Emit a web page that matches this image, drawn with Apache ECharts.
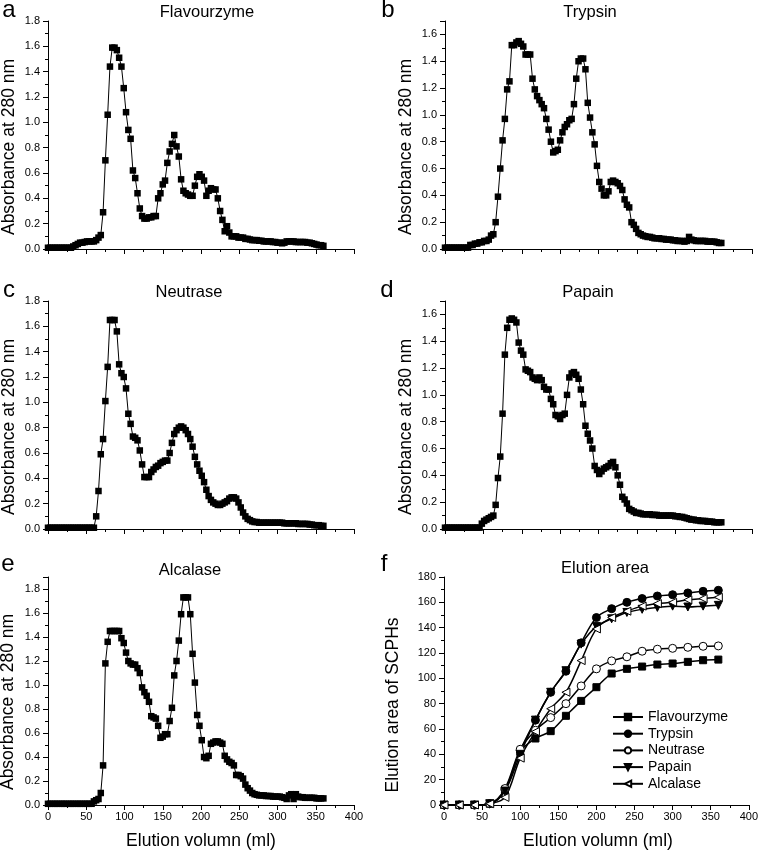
<!DOCTYPE html>
<html>
<head>
<meta charset="utf-8">
<script src="https://cdn.jsdelivr.net/npm/echarts@6.0.0/dist/echarts.min.js"></script>
<style>
html,body{margin:0;padding:0;background:#fff;}
#chart{width:761px;height:851px;}
</style>
</head>
<body>
<div id="chart"></div>
<script>
// ---- Data ----
const volumes = [0,3,6,9,12,15,18,21,24,27,30,33,36,39,42,45,48,51,54,57,60,63,66,69,72,75,78,81,84,87,90,93,96,99,102,105,108,111,114,117,120,123,126,129,132,135,138,141,144,147,150,153,156,159,162,165,168,171,174,177,180,183,186,189,192,195,198,201,204,207,210,213,216,219,222,225,228,231,234,237,240,243,246,249,252,255,258,261,264,267,270,273,276,279,282,285,288,291,294,297,300,303,306,309,312,315,318,321,324,327,330,333,336,339,342,345,348,351,354,357,360];

const flavourzyme = [0.01,0.01,0.01,0.01,0.01,0.01,0.01,0.01,0.01,0.01,0.01,
  0.02,0.03,0.04,0.05,0.05,0.055,0.06,0.06,0.06,0.06,0.07,0.09,0.11,0.29,0.70,1.06,1.44,1.59,1.59,
  1.57,1.51,1.44,1.27,1.08,0.94,0.87,0.62,0.56,0.44,0.32,0.26,0.24,0.24,0.25,0.25,0.26,0.26,0.40,0.44,
  0.51,0.54,0.68,0.77,0.83,0.90,0.81,0.73,0.55,0.46,0.44,0.43,0.42,0.42,0.50,0.57,0.59,0.57,0.54,0.42,
  0.46,0.48,0.47,0.47,0.40,0.30,0.23,0.14,0.18,0.13,0.10,0.10,0.10,0.09,0.09,0.09,0.08,0.08,0.075,0.07,
  0.07,0.07,0.065,0.065,0.06,0.06,0.06,0.06,0.055,0.055,0.05,0.05,0.045,0.05,0.06,0.06,0.06,0.06,0.055,0.055,
  0.055,0.055,0.055,0.05,0.05,0.045,0.04,0.035,0.03,0.03,0.025];

const trypsin = [0.01,0.01,0.01,0.01,0.01,0.01,0.01,0.01,0.01,0.01,0.01,
  0.03,0.03,0.04,0.04,0.05,0.05,0.06,0.06,0.07,0.10,0.11,0.20,0.39,0.60,0.81,0.97,1.19,1.25,1.52,
  1.52,1.54,1.55,1.53,1.51,1.45,1.45,1.45,1.27,1.19,1.14,1.11,1.08,1.05,0.97,0.89,0.80,0.72,0.73,0.74,
  0.81,0.87,0.91,0.93,0.96,0.97,1.08,1.27,1.40,1.42,1.42,1.34,1.09,0.98,0.87,0.78,0.62,0.50,0.45,0.40,
  0.40,0.43,0.50,0.51,0.50,0.49,0.47,0.44,0.37,0.33,0.31,0.20,0.18,0.15,0.12,0.11,0.10,0.095,0.09,0.09,
  0.085,0.08,0.08,0.08,0.075,0.075,0.07,0.07,0.07,0.065,0.065,0.06,0.06,0.06,0.055,0.06,0.09,0.07,0.065,0.06,
  0.06,0.06,0.06,0.06,0.055,0.055,0.055,0.055,0.05,0.045,0.045];

const neutrase = [0.01,0.01,0.01,0.01,0.01,0.01,0.01,0.01,0.01,0.01,0.01,0.01,0.01,0.01,0.01,0.01,0.01,0.01,0.01,0.01,0.01,
  0.10,0.30,0.59,0.71,1.01,1.28,1.65,1.65,1.65,
  1.56,1.30,1.23,1.20,1.11,0.91,0.83,0.73,0.72,0.70,0.62,0.51,0.41,0.41,0.41,0.45,0.47,0.49,0.50,0.52,
  0.53,0.54,0.54,0.60,0.68,0.75,0.78,0.80,0.81,0.80,0.78,0.75,0.71,0.65,0.57,0.51,0.46,0.42,0.37,0.31,
  0.26,0.23,0.21,0.20,0.19,0.19,0.20,0.21,0.22,0.24,0.25,0.25,0.24,0.21,0.17,0.13,0.10,0.08,0.07,0.06,
  0.055,0.055,0.05,0.05,0.05,0.05,0.05,0.05,0.05,0.05,0.05,0.05,0.05,0.045,0.045,0.045,0.045,0.045,0.045,0.04,
  0.04,0.04,0.04,0.04,0.035,0.035,0.03,0.03,0.03,0.025,0.025];

const papain = [0.01,0.01,0.01,0.01,0.01,0.01,0.01,0.01,0.01,0.01,0.01,0.01,0.01,0.01,0.01,0.01,
  0.04,0.06,0.07,0.08,0.09,0.10,0.18,0.38,0.54,0.86,1.30,1.50,1.56,1.57,
  1.56,1.54,1.39,1.33,1.30,1.19,1.18,1.17,1.13,1.12,1.11,1.13,1.11,1.06,1.04,1.04,0.97,0.93,0.85,0.84,
  0.82,0.85,0.86,1.00,1.13,1.16,1.17,1.15,1.12,1.04,0.93,0.77,0.71,0.66,0.60,0.47,0.44,0.41,0.43,0.45,
  0.46,0.47,0.49,0.50,0.46,0.40,0.33,0.24,0.22,0.19,0.15,0.14,0.13,0.12,0.12,0.115,0.11,0.11,0.11,0.11,
  0.105,0.105,0.105,0.10,0.10,0.10,0.10,0.10,0.10,0.10,0.095,0.095,0.09,0.09,0.085,0.08,0.075,0.07,0.07,0.065,
  0.065,0.06,0.06,0.06,0.055,0.055,0.055,0.05,0.05,0.05,0.05];

const alcalase = [0.01,0.01,0.01,0.01,0.01,0.01,0.01,0.01,0.01,0.01,0.01,0.01,0.01,0.01,0.01,0.01,0.01,0.01,0.01,0.01,
  0.03,0.04,0.05,0.10,0.33,1.18,1.36,1.45,1.45,1.45,
  1.45,1.45,1.39,1.35,1.27,1.20,1.18,1.17,1.17,1.14,1.10,0.98,0.94,0.91,0.86,0.74,0.73,0.72,0.66,0.56,
  0.57,0.59,0.59,0.70,0.81,1.08,1.20,1.37,1.59,1.73,1.73,1.73,1.59,1.26,1.02,0.75,0.66,0.54,0.40,0.39,
  0.41,0.51,0.52,0.53,0.53,0.52,0.51,0.41,0.38,0.36,0.35,0.33,0.25,0.25,0.24,0.22,0.17,0.14,0.12,0.10,
  0.09,0.085,0.08,0.08,0.08,0.075,0.075,0.075,0.07,0.07,0.07,0.07,0.065,0.06,0.05,0.08,0.09,0.05,0.09,0.07,
  0.065,0.065,0.06,0.06,0.06,0.06,0.06,0.055,0.055,0.055,0.055];

// Elution area (panel f)
const areaVolumes = [0,20,40,60,80,100,120,140,160,180,200,220,240,260,280,300,320,340,360];
const areaFlavourzyme = [0,0,0,1,12,42,52.5,58.3,70.4,82.2,93,103.8,107.5,109.3,110.9,111.7,113,114.3,114.8];
const areaTrypsin     = [0,0,0,1,12,43,67,89,105.6,128,148,155,160,163,165,166,167.4,168.7,169.5];
const areaNeutrase    = [0,0,0,1,13,44,59,69,80,94,107.5,113.8,117,121.4,123,123.7,124.5,125.3,125.6];
const areaPapain      = [0,0,0,1,11,40,67,89,106,127,141,147,152,154.5,156,157,156.3,157,157.6];
const areaAlcalase    = [0,0,0,1,6,37,58,76,89,114,139,148,153,157,159,160,162,163,164];

const panelTitles = ['Flavourzyme','Trypsin','Neutrase','Papain','Alcalase','Elution area'];
const panelLetters = ['a','b','c','d','e','f'];
const xName = 'Elution volumn (ml)';
const yNameAbs = 'Absorbance at 280 nm';
const yNameArea = 'Elution area of SCPHs';

// ---- Chart ----
const FONT = "'Liberation Sans', Arial, Helvetica, sans-serif";
const chart = echarts.init(document.getElementById('chart'), null, {renderer: 'canvas'});

const grids = [
  {left: 48, top: 21, width: 306, height: 228},
  {left: 445, top: 21, width: 307, height: 228},
  {left: 48, top: 301, width: 306, height: 228},
  {left: 445, top: 301, width: 307, height: 228},
  {left: 48, top: 577, width: 306, height: 228},
  {left: 444, top: 577, width: 308, height: 228}
];
const yMax = [1.8, 1.7, 1.8, 1.7, 1.9, 180];
const yInterval = [0.2, 0.2, 0.2, 0.2, 0.2, 20];

const axisLineStyle = {color: '#000', width: 1};

const xAxes = grids.map((g, i) => ({
  type: 'value', gridIndex: i, min: 0, max: 400, interval: 50,
  axisLine: {show: true, onZero: false, lineStyle: axisLineStyle},
  axisTick: {show: true, length: 5, lineStyle: axisLineStyle},
  minorTick: {show: true, splitNumber: 2, length: 3, lineStyle: axisLineStyle},
  splitLine: {show: false},
  axisLabel: {show: i >= 4, color: '#000', fontFamily: FONT, fontSize: 11, margin: 6}
}));

const yAxes = grids.map((g, i) => ({
  type: 'value', gridIndex: i, min: 0, max: yMax[i], interval: yInterval[i],
  axisLine: {show: true, onZero: false, lineStyle: axisLineStyle},
  axisTick: {show: true, length: 5, lineStyle: axisLineStyle},
  minorTick: {show: true, splitNumber: 2, length: 3, lineStyle: axisLineStyle},
  splitLine: {show: false},
  axisLabel: {
    color: '#000', fontFamily: FONT, fontSize: 11, margin: 8,
    showMaxLabel: (i === 1 || i === 3 || i === 4) ? false : true,
    formatter: i === 5 ? (v => String(v)) : (v => v.toFixed(1))
  }
}));

function pairs(xs, ys) { return xs.map((x, k) => [x, ys[k]]); }

const absSeries = [flavourzyme, trypsin, neutrase, papain, alcalase].map((arr, i) => ({
  type: 'line', xAxisIndex: i, yAxisIndex: i,
  data: pairs(volumes, arr),
  symbol: 'rect', symbolSize: 6.5, showSymbol: true,
  lineStyle: {color: '#000', width: 1},
  itemStyle: {color: '#000'},
  animation: false, silent: true
}));

const areaDefs = [
  {name: 'Flavourzyme', data: areaFlavourzyme, symbol: 'rect', size: 7, rot: 0, fill: '#000'},
  {name: 'Trypsin', data: areaTrypsin, symbol: 'circle', size: 8, rot: 0, fill: '#000'},
  {name: 'Neutrase', data: areaNeutrase, symbol: 'circle', size: 8, rot: 0, fill: '#fff'},
  {name: 'Papain', data: areaPapain, symbol: 'triangle', size: 8, rot: 180, fill: '#000'},
  {name: 'Alcalase', data: areaAlcalase, symbol: 'triangle', size: 8, rot: 90, fill: '#fff'}
];
const areaSeries = areaDefs.map(d => ({
  name: d.name, type: 'line', xAxisIndex: 5, yAxisIndex: 5,
  data: pairs(areaVolumes, d.data),
  smooth: 0.35,
  symbol: d.symbol, symbolSize: d.size, symbolRotate: d.rot, showSymbol: true,
  lineStyle: {color: '#000', width: 1.5},
  itemStyle: {color: d.fill, borderColor: '#000', borderWidth: 1},
  animation: false, silent: true
}));

function txt(text, x, y, size, rot) {
  return {
    type: 'text', x: x, y: y, rotation: rot || 0, silent: true,
    style: {text: text, font: size + 'px ' + FONT, fill: '#000', align: 'center', verticalAlign: 'middle'}
  };
}

const letterPos = [[9, 10], [388, 10], [9, 290], [387, 290], [8, 564], [384, 564]];
const titlePos = [[207, 12], [590, 12], [189, 292], [588, 292], [190, 570], [605, 568]];
const yNamePos = [[9, 147], [406, 147], [9, 427], [406, 427], [8, 702], [393, 705]];

const graphics = [];
panelLetters.forEach((l, i) => graphics.push(txt(l, letterPos[i][0], letterPos[i][1], 24)));
panelTitles.forEach((t, i) => graphics.push(txt(t, titlePos[i][0], titlePos[i][1], 16.5)));
yNamePos.forEach((p, i) => graphics.push(txt(i === 5 ? yNameArea : yNameAbs, p[0], p[1], 17.5, Math.PI / 2)));
graphics.push(txt(xName, 201, 841, 17.5));
graphics.push(txt(xName, 598, 841, 17.5));

chart.setOption({
  backgroundColor: '#fff',
  animation: false,
  grid: grids,
  xAxis: xAxes,
  yAxis: yAxes,
  legend: {
    show: true, orient: 'vertical', left: 607, top: 705,
    itemWidth: 30, itemHeight: 8, itemGap: 2.7,
    textStyle: {color: '#000', fontFamily: FONT, fontSize: 14},
    data: areaDefs.map(d => d.name),
    selectedMode: false
  },
  series: absSeries.concat(areaSeries),
  graphic: graphics
});
</script>
</body>
</html>
